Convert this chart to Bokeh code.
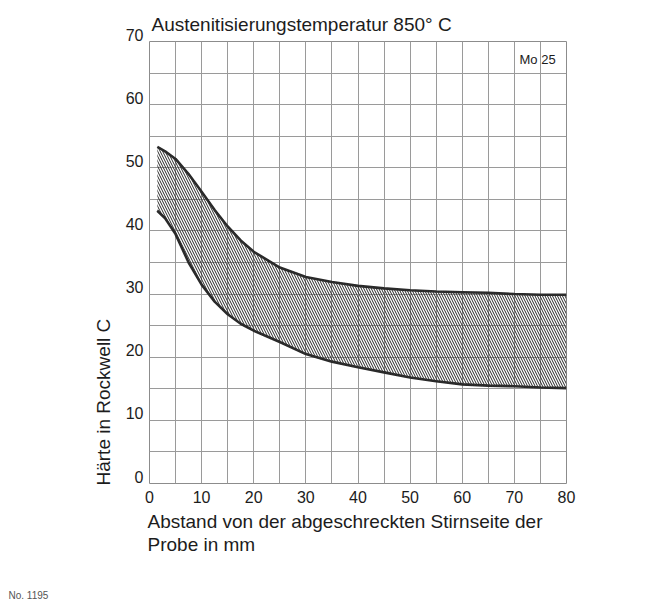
from bokeh.plotting import figure
from bokeh.models import Range1d, FixedTicker, Label, Title
from bokeh.embed import file_html
from bokeh.resources import INLINE

# ---- data ----
distance_mm = [1.5, 3, 5, 7.5, 10, 12.5, 15, 17.5, 20, 25, 30, 35, 40, 45, 50, 55, 60, 65, 70, 75, 80]
hardness_max = [53.3, 52.6, 51.4, 49.0, 46.2, 43.3, 40.7, 38.5, 36.7, 34.2, 32.7, 31.9, 31.3, 30.9, 30.6, 30.4, 30.3, 30.2, 30.0, 29.9, 29.9]
hardness_min = [43.2, 42.0, 39.5, 35.0, 31.5, 28.8, 26.8, 25.3, 24.2, 22.4, 20.5, 19.3, 18.4, 17.6, 16.8, 16.2, 15.7, 15.5, 15.4, 15.2, 15.1]
x_ticks = [0, 10, 20, 30, 40, 50, 60, 70, 80]
y_ticks = [0, 10, 20, 30, 40, 50, 60, 70]
x_grid = list(range(0, 81, 5))
y_grid = list(range(0, 71, 5))

title_text = "Austenitisierungstemperatur 850° C"
steel_text = "Mo 25"
x_label = "Abstand von der abgeschreckten Stirnseite der\nProbe in mm"
y_label = "Härte in Rockwell C"
number_text = "No. 1195"

# ---- layout ----
W, H = 651, 608
FL, FT, FR, FB = 149, 41, 85, 125
X0, X1, Y0, Y1 = 0, 80, 0, 70
FONT = "Liberation Sans"
INK = "#1c1c1c"

p = figure(width=W, height=H, output_backend="svg", toolbar_location=None,
           x_range=Range1d(X0, X1), y_range=Range1d(Y0, Y1),
           min_border_left=FL, min_border_right=FR,
           min_border_top=FT, min_border_bottom=FB)
p.background_fill_color = "white"
p.border_fill_color = "white"
p.outline_line_color = "#8c8c8c"
p.outline_line_width = 1

p.xaxis.ticker = FixedTicker(ticks=x_ticks)
p.yaxis.ticker = FixedTicker(ticks=y_ticks)
p.xgrid.ticker = FixedTicker(ticks=x_grid)
p.ygrid.ticker = FixedTicker(ticks=y_grid)
for g in (p.xgrid, p.ygrid):
    g.grid_line_color = "#9a9a9a"
    g.grid_line_width = 1

for ax in (p.xaxis, p.yaxis):
    ax.axis_line_color = None
    ax.major_tick_line_color = None
    ax.minor_tick_line_color = None
    ax.major_tick_out = 0
    ax.major_tick_in = 0
    ax.major_label_text_font = FONT
    ax.major_label_text_font_size = "16px"
    ax.major_label_text_color = INK
p.xaxis.major_label_standoff = 7
p.yaxis.major_label_standoff = 6
# y tick labels sit a little above their grid line, as in the print
p.yaxis.major_label_overrides = {t: f"{t}\n" for t in y_ticks}
p.yaxis.major_label_text_line_height = 0.75

p.varea(x=distance_mm, y1=hardness_min, y2=hardness_max,
        fill_alpha=0, hatch_pattern="\\", hatch_color="#262626",
        hatch_scale=5, hatch_weight=1)
p.line(distance_mm, hardness_max, line_width=2.6, line_color="#2a2a2a", line_join="round")
p.line(distance_mm, hardness_min, line_width=2.6, line_color="#2a2a2a", line_join="round")

# label inside the frame (top right cell)
p.add_layout(Label(x=X1, y=Y1, x_offset=-47, y_offset=-18, text=steel_text,
                   text_font=FONT, text_font_size="13px", text_color=INK,
                   text_align="left", text_baseline="alphabetic"))

# texts outside the frame: titles in the side panels
p.add_layout(Title(text=title_text, align="left", offset=2, standoff=14,
                   vertical_align="bottom", text_font=FONT, text_font_size="19px",
                   text_font_style="normal", text_color=INK), "above")
p.add_layout(Title(text=y_label, align="left", offset=-2, standoff=18,
                   vertical_align="bottom", text_font=FONT, text_font_size="19px",
                   text_font_style="normal", text_color=INK), "left")
p.add_layout(Title(text=x_label, align="left", offset=-2, standoff=8,
                   vertical_align="bottom", text_font=FONT, text_font_size="19px",
                   text_font_style="normal", text_color=INK, text_line_height=1.1), "below")
p.add_layout(Title(text="\n\n" + number_text, align="left", offset=-(FL - 8), standoff=12,
                   vertical_align="bottom", text_font=FONT, text_font_size="10px",
                   text_font_style="normal", text_color="#555555",
                   text_line_height=1.0), "below")

open("out.html", "w").write(file_html(p, INLINE))
